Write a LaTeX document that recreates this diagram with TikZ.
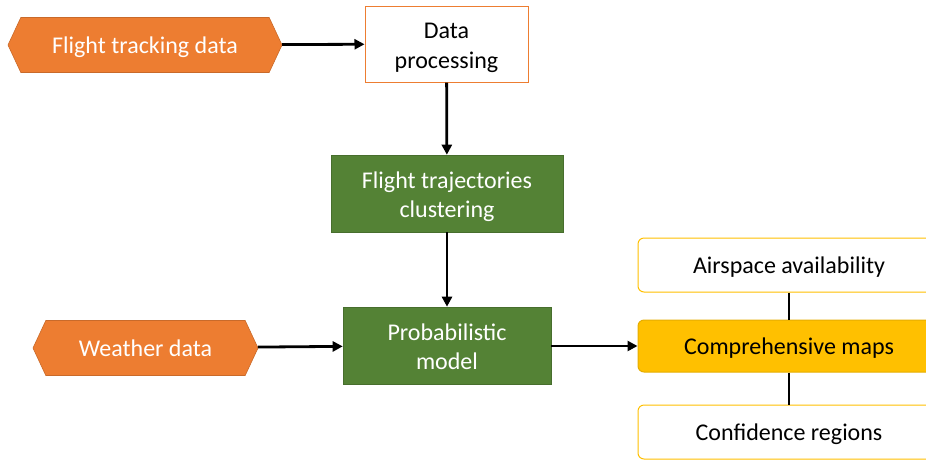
\documentclass[tikz,border=0pt]{standalone}
\usepackage{fontspec}
\setmainfont{Carlito}
\usetikzlibrary{shapes.symbols,arrows.meta}

\definecolor{dataorange}{HTML}{ED7D31}
\definecolor{modelgreen}{HTML}{548235}
\definecolor{mapgold}{HTML}{FFC000}

\begin{document}
\begin{tikzpicture}[x=1pt,y=-1pt,line width=2.8pt,
    font=\fontsize{24}{29.5}\selectfont,
    every node/.style = {text height=20pt, text depth=2.5pt},
    twolines/.style = {align=center, text height=50pt, text depth=2pt},
    source/.style = {signal, signal to=west and east, signal pointer angle=130,
        fill=dataorange, draw=dataorange!85!black, line width=0.6pt, text=white,
        minimum height=55pt, inner sep=0pt},
    plain/.style = {twolines, draw=dataorange, fill=white, line width=1pt,
        minimum height=76pt, inner sep=0pt},
    model/.style = {twolines, draw=modelgreen!85!black, fill=modelgreen, line width=0.6pt,
        text=white, minimum height=77pt, inner sep=0pt},
    result/.style = {draw=mapgold, fill=white, line width=1pt, rounded corners=6pt,
        minimum width=302pt, minimum height=54pt, inner sep=0pt},
    link/.style = {-{Triangle[length=10pt,width=10pt]}}]
        \clip (0,0) rectangle (926,459);

        \node[source, minimum width=274pt](tracking) at (145,45){Flight tracking data};
        \node[plain, minimum width=163pt](processing) at (446.5,44){Data\\processing};
        \node[model, minimum width=232pt](clustering) at (447,193.5){Flight trajectories\\clustering};
        \node[model, minimum width=208pt](probmodel) at (447,345.5){Probabilistic\\model};
        \node[source, minimum width=225pt](weather) at (145.5,348){Weather data};

        \node[result](airspace) at (789,265){Airspace availability};
        \node[result, fill=mapgold, draw=mapgold!90!black, minimum height=52pt](maps) at (789,346){Comprehensive maps};
        \node[result](confidence) at (789,432){Confidence regions};

        \path[link]
        (tracking) edge (processing)
        (processing) edge (clustering)
        (clustering) edge (probmodel)
        (weather) edge (probmodel)
        (probmodel.east |- maps) edge (maps)
        ;
        \path
        (airspace) edge (maps)
        (maps) edge (confidence)
        ;
      \end{tikzpicture}
\end{document}
